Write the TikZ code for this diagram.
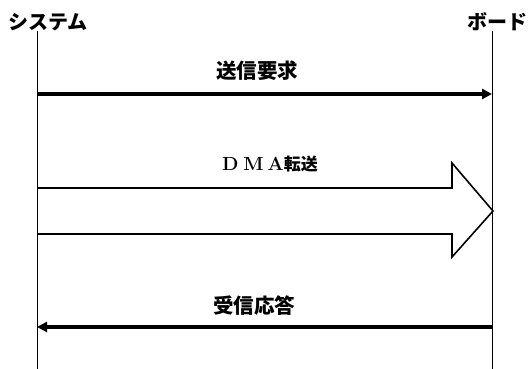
\documentclass[tikz,border=0pt]{standalone}
\usepackage{fontspec}
\newfontfamily\jp{Noto Sans CJK JP}
\usetikzlibrary{arrows.meta}
\begin{document}
\begin{tikzpicture}[x=1pt,y=-1pt,
  actor/.style={font=\jp\bfseries\fontsize{20}{20}\selectfont},
  msgtext/.style={font=\jp\bfseries\fontsize{20.5}{20.5}\selectfont},
  msg/.style={line width=3.2pt,-{Triangle[length=10pt,width=10pt]}}]
  \useasboundingbox (0,0) rectangle (531,369);
  % actors and lifelines
  \node[actor] (sys) at (48,22) {システム};
  \node[actor] (brd) at (497,22) {ボード};
  \coordinate (sysTop) at (37,31);
  \coordinate (sysEnd) at (37,369);
  \coordinate (brdTop) at (492,31);
  \coordinate (brdEnd) at (492,369);
  \draw[line width=0.9pt] (sysTop) -- (sysEnd);
  \draw[line width=0.9pt] (brdTop) -- (brdEnd);
  % request
  \node[msgtext] (req) at (257,71) {送信要求};
  \coordinate (reqFrom) at (37,94);
  \coordinate (reqTo) at (492,94);
  \draw[msg] (reqFrom) -- (reqTo);
  % DMA transfer
  \node[msgtext] (dma) at (270,164)
    {{\rmfamily\fontsize{19}{19}\selectfont D\hspace{5pt}M\hspace{4pt}A}%
     {\fontsize{17}{17}\selectfont 転送}};
  \draw[line width=1.6pt,line join=miter]
    (37,188) -- (452,188) -- (452,163) -- (493,211)
    -- (452,257) -- (452,234) -- (37,234);
  % answer
  \node[msgtext] (ack) at (254,306) {受信応答};
  \coordinate (ackFrom) at (492,327);
  \coordinate (ackTo) at (37,327);
  \draw[msg] (ackFrom) -- (ackTo);
\end{tikzpicture}
\end{document}
